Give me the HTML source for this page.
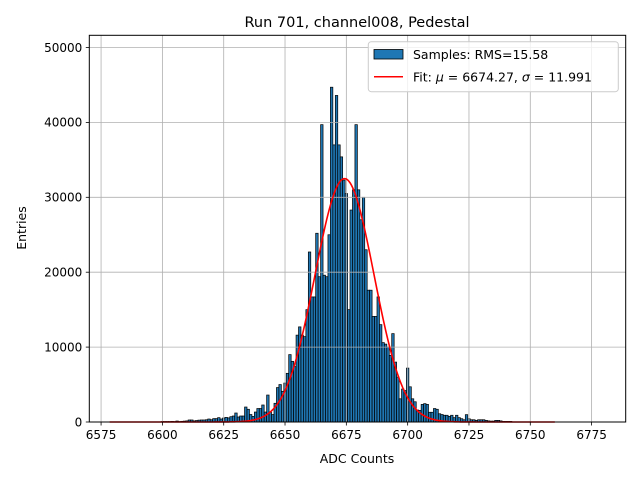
<!DOCTYPE html>
<html><head><meta charset="utf-8"><style>
body{margin:0;background:#fff;}
svg text{font-family:"DejaVu Sans","Liberation Sans",sans-serif;}
</style></head><body>
<svg id="chart" width="640" height="480" viewBox="0 0 640 480" xmlns="http://www.w3.org/2000/svg">
<rect width="640" height="480" fill="#fff"/>
<text x="357" y="27" font-size="14.5" text-anchor="middle">Run 701, channel008, Pedestal</text>
<g id="bars"></g>
<g id="grid"></g>
<g id="fit"></g>
<rect x="89.3" y="35.3" width="536.4" height="386.7" fill="none" stroke="#000" stroke-width="1"/>
<g id="xticks"></g>
<g id="yticks"></g>
<text x="357" y="463" font-size="12.5" text-anchor="middle">ADC Counts</text>
<text x="26" y="228" font-size="12.5" text-anchor="middle" transform="rotate(-90 26 228)">Entries</text>
<g>
<rect x="368.3" y="41.7" width="250" height="50" rx="3" fill="#fff" fill-opacity="0.8" stroke="#ccc"/>
<rect x="374" y="49.5" width="29" height="9.5" fill="#1f77b4" stroke="#000" stroke-width="0.8"/>
<text x="413" y="59" font-size="12.5">Samples: RMS=15.58</text>
<line x1="374" y1="76.7" x2="403" y2="76.7" stroke="red" stroke-width="1.5"/>
<text x="413" y="81.5" font-size="12.5">Fit: <tspan font-style="italic">μ</tspan> = 6674.27, <tspan font-style="italic">σ</tspan> = 11.991</text>
</g>
</svg>
<script>
const binStart = 6600;
const counts = [60,60,60,60,80,60,130,60,90,120,150,270,270,150,200,250,270,270,300,400,
300,450,450,580,400,530,620,550,710,800,1200,670,800,800,2000,1700,1000,750,1330,1800,
1800,2270,1330,3600,1330,1000,2500,4600,5000,4100,5200,6500,9000,8100,7400,11600,12700,11600,11400,15000,
22700,16700,16700,25200,19400,39700,19600,19400,25000,44700,37000,43600,37000,35400,32300,30500,15000,28300,31000,39700,
31000,27000,30000,23000,17600,17600,14100,14100,16700,13000,10600,10400,10000,8900,11800,8000,6000,3100,4400,4200,
7200,4700,3100,2700,1600,1550,2350,2450,2350,1300,1300,1800,1700,1100,1000,900,900,750,900,580,
900,580,440,300,980,440,300,300,220,300,300,300,220,150,120,120,220,220,150,80,80,80,80];
const xTicks = [6575,6600,6625,6650,6675,6700,6725,6750,6775];
const yTicks = [0,10000,20000,30000,40000,50000];
const fitMu = 6674.27, fitSigma = 11.991, fitAmp = 32500, fitRange = [6578.5, 6760];

const NS="http://www.w3.org/2000/svg";
const X0=89.3,X1=625.7,Y0=422,Y1=35.3;
const xmin=6570.2,xmax=6788.9,ymax=51630;
const sx=v=>X0+(v-xmin)/(xmax-xmin)*(X1-X0);
const sy=c=>Y0-c/ymax*(Y0-Y1);
function mk(tag,attrs,parent){const e=document.createElementNS(NS,tag);for(const k in attrs)e.setAttribute(k,attrs[k]);parent.appendChild(e);return e;}
const bars=document.getElementById('bars');
counts.forEach((c,i)=>{const v=binStart+i;
 const r=mk('rect',{x:sx(v-0.5),y:sy(c),width:sx(v+0.5)-sx(v-0.5),height:Y0-sy(c),fill:'#1f77b4',stroke:'#000','stroke-width':0.7},bars);
 
 
});
const grid=document.getElementById('grid');
const xt=document.getElementById('xticks');
xTicks.forEach(t=>{const x=sx(t);
 const g=mk('line',{x1:x,x2:x,y1:Y1,y2:Y0,stroke:'#b0b0b0','stroke-width':0.8},grid);
 
 
 const tk=mk('line',{x1:x,x2:x,y1:Y0,y2:Y0+3.5,stroke:'#000','stroke-width':0.8},xt);
 
 
 const tx=mk('text',{x:x,y:Y0+17,'font-size':12,'text-anchor':'middle'},xt);
 tx.textContent=t;
 
 
});
const yt=document.getElementById('yticks');
yTicks.forEach(t=>{const y=sy(t);
 const g=mk('line',{x1:X0,x2:X1,y1:y,y2:y,stroke:'#b0b0b0','stroke-width':0.8},grid);
 
 
 const tk=mk('line',{x1:X0-3.5,x2:X0,y1:y,y2:y,stroke:'#000','stroke-width':0.8},yt);
 
 
 const tx=mk('text',{x:X0-7,y:y+4.3,'font-size':12,'text-anchor':'end'},yt);
 tx.textContent=t;
 
 
});
let d='';
for(let v=fitRange[0];v<=fitRange[1];v+=0.5){const c=fitAmp*Math.exp(-((v-fitMu)**2)/(2*fitSigma*fitSigma));d+=(d?'L':'M')+sx(v).toFixed(2)+' '+sy(c).toFixed(2);}
const p=mk('path',{d:d,fill:'none',stroke:'red','stroke-width':1.6},document.getElementById('fit'));


</script>
</body></html>
